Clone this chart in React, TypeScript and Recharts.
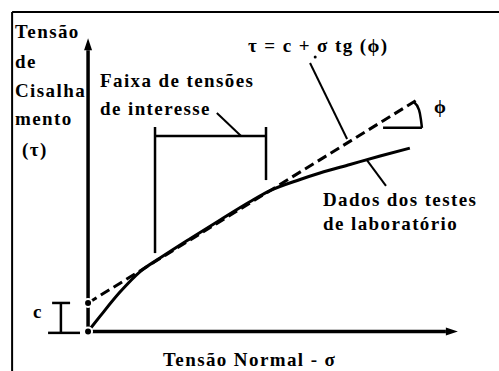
import { LineChart, Line, XAxis, YAxis, ReferenceLine, ReferenceDot } from 'recharts'

// eixos: tensão normal (σ) e tensão de cisalhamento (τ), unidades arbitrárias
const sigmaDomain = [-24, 112]
const tauDomain = [-13.5, 113]

// coesão (intercepto) e envoltória de Mohr-Coulomb
const cIntercept = 9.7
const envelopeSigma = [0, 90]
const envelopeTau = [cIntercept, 79.2]

// curva dos testes de laboratório
const labSigma = [0, 3.3, 8.7, 14.2, 19.6, 27.8, 36.0, 44.1, 49.6, 57.8, 63.2, 71.4, 79.6, 87.7]
const labTau = [0, 5.2, 13.4, 20.4, 25.0, 31.6, 38.0, 44.2, 48.0, 51.8, 54.0, 56.9, 59.8, 62.5]

// arco do ângulo ϕ
const arcSigma = [88.8, 90.2, 90.7, 91.0]
const arcTau = [78.2, 75.5, 72.4, 69.4]

// faixa de tensões de interesse
const rangeSigma = [18.25, 48.5]
const rangeTop = 69.7
const rangeBar = 66.6
const rangeBottom = [26.7, 51.6]

const envelope = envelopeSigma.map((s, i) => ({ sigma: s, tau: envelopeTau[i] }))
const lab = labSigma.map((s, i) => ({ sigma: s, tau: labTau[i] }))
const arc = arcSigma.map((s, i) => ({ sigma: s, tau: arcTau[i] }))

const textStyle = {
  fontFamily: "'Liberation Serif', serif",
  fontWeight: 700,
  fontSize: 19,
  letterSpacing: 1.4,
  fill: '#000',
}
const ink = '#000'

const ArrowLine = (props: any) => {
  const { x1, y1, x2, y2 } = props
  const a = Math.atan2(y2 - y1, x2 - x1)
  const len = 12
  const half = 4
  const bx = x2 - len * Math.cos(a)
  const by = y2 - len * Math.sin(a)
  const nx = -Math.sin(a) * half
  const ny = Math.cos(a) * half
  return (
    <g>
      <line x1={x1} y1={y1} x2={bx} y2={by} stroke={ink} strokeWidth={3.5} />
      <polygon points={`${x2},${y2} ${bx + nx},${by + ny} ${bx - nx},${by - ny}`} fill={ink} />
    </g>
  )
}

const seg = (x1: number, y1: number, x2: number, y2: number, w = 2.5) => (
  <ReferenceLine
    key={`${x1}-${y1}-${x2}-${y2}`}
    segment={[{ x: x1, y: y1 }, { x: x2, y: y2 }]}
    stroke={ink}
    strokeWidth={w}
    ifOverflow="visible"
  />
)

const T = ({ x, y, children }: { x: number; y: number; children: string }) => (
  <text x={x} y={y} style={textStyle}>{children}</text>
)

export default function App() {
  return (
    <div style={{ position: 'absolute', left: 0, top: 0, width: 499, height: 371, background: '#fff' }}>
      <LineChart width={499} height={371} margin={{ top: 0, right: 0, bottom: 0, left: 0 }}>
        <XAxis type="number" dataKey="sigma" domain={sigmaDomain} hide allowDataOverflow />
        <YAxis type="number" dataKey="tau" domain={tauDomain} hide allowDataOverflow />

        {/* moldura */}
        {seg(-20.7, 108.9, 112, 108.9, 2)}
        {seg(-20.7, 108.9, -20.7, -13.5, 2)}

        {/* eixos com setas */}
        <ReferenceLine segment={[{ x: 0, y: -0.5 }, { x: 0, y: 100 }]} ifOverflow="visible" shape={ArrowLine} />
        <ReferenceLine segment={[{ x: -0.5, y: 0 }, { x: 100.8, y: 0 }]} ifOverflow="visible" shape={ArrowLine} />

        {/* cota da coesão c */}
        {seg(-9.8, cIntercept, -4.9, cIntercept)}
        {seg(-7.4, cIntercept, -7.4, -0.5)}
        {seg(-10.9, -0.5, -2.2, -0.5)}

        {/* faixa de tensões de interesse */}
        {seg(rangeSigma[0], rangeTop, rangeSigma[0], rangeBottom[0])}
        {seg(rangeSigma[1], rangeTop, rangeSigma[1], rangeBottom[1])}
        {seg(rangeSigma[0], rangeBar, rangeSigma[1], rangeBar)}

        {/* linhas de chamada */}
        {seg(35.1, 74.5, 41.7, 66.6, 2)}
        {seg(60.5, 91.5, 70.6, 65.6, 2)}
        {seg(76.0, 58.4, 81.2, 49.6, 2)}
        <ReferenceDot x={61.9} y={93.6} r={1.5} fill={ink} stroke="none" ifOverflow="visible" />

        {/* ângulo ϕ */}
        {seg(80.4, 69.4, 91.0, 69.4, 2.5)}
        <Line data={arc} dataKey="tau" type="monotone" stroke={ink} strokeWidth={2.5} dot={false} isAnimationActive={false} />

        <Line data={envelope} dataKey="tau" stroke={ink} strokeWidth={3} strokeDasharray="10 5" dot={false} isAnimationActive={false} />
        <Line data={lab} dataKey="tau" type="monotone" stroke={ink} strokeWidth={3} dot={false} isAnimationActive={false} />

        <T x={15} y={38}>Tensão</T>
        <T x={15} y={68}>de</T>
        <T x={15} y={97}>Cisalha</T>
        <T x={15} y={125}>mento</T>
        <T x={22} y={156}>(τ)</T>

        <T x={100} y={87}>Faixa de tensões</T>
        <T x={100} y={115}>de interesse</T>

        <T x={248} y={52}>τ = c + σ tg (ϕ)</T>
        <T x={434} y={113}>ϕ</T>

        <T x={323} y={206}>Dados dos testes</T>
        <T x={323} y={230}>de laboratório</T>

        <T x={33} y={318}>c</T>
        <T x={163} y={366}>Tensão Normal - σ</T>
      </LineChart>
    </div>
  )
}
